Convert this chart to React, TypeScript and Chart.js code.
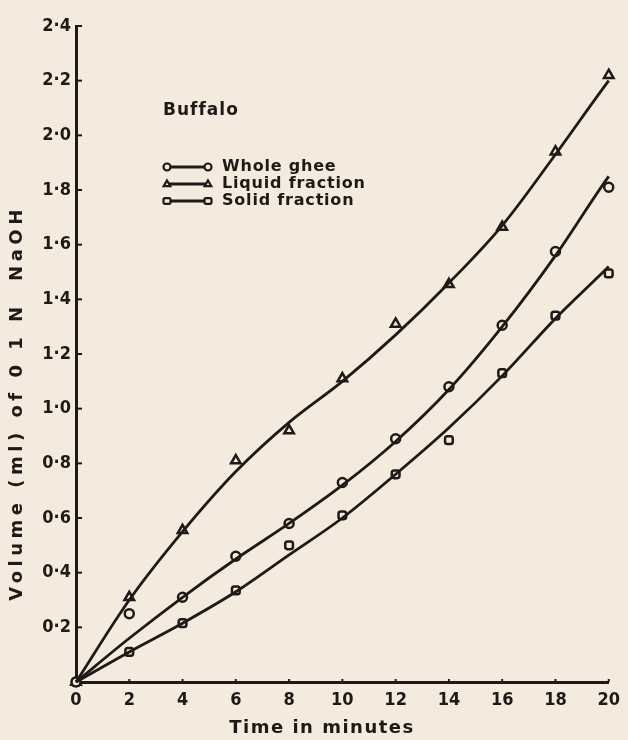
import React, { useEffect, useRef } from "react";
import { Chart, registerables } from "chart.js";

Chart.register(...registerables);

// ---- data ----
const obsTimes = [0, 2, 4, 6, 8, 10, 12, 14, 16, 18, 20];
const wholeGheeObs = [0, 0.25, 0.31, 0.46, 0.58, 0.73, 0.89, 1.08, 1.305, 1.575, 1.81];
const liquidObs = [0, 0.31, 0.555, 0.81, 0.92, 1.11, 1.31, 1.455, 1.665, 1.94, 2.22];
const solidObs = [0, 0.11, 0.215, 0.335, 0.5, 0.61, 0.76, 0.885, 1.13, 1.34, 1.495];

const curveTimes = [0, 2, 4, 6, 8, 10, 12, 14, 16, 18, 20, 20.4];
const wholeGheeCurve = [0, 0.16, 0.31, 0.45, 0.58, 0.72, 0.88, 1.07, 1.3, 1.56, 1.85, 1.9];
const liquidCurve = [0, 0.3, 0.55, 0.77, 0.95, 1.1, 1.27, 1.46, 1.67, 1.93, 2.2, 2.25];
const solidCurve = [0, 0.11, 0.215, 0.33, 0.465, 0.6, 0.76, 0.93, 1.12, 1.33, 1.52, 1.56];

const xTicks = [0, 2, 4, 6, 8, 10, 12, 14, 16, 18, 20];
const yTicks = [0.2, 0.4, 0.6, 0.8, 1.0, 1.2, 1.4, 1.6, 1.8, 2.0, 2.2, 2.4];
const yTickLabels = ["0·2", "0·4", "0·6", "0·8", "1·0", "1·2", "1·4", "1·6", "1·8", "2·0", "2·2", "2·4"];

const seriesNames = ["Whole ghee", "Liquid fraction", "Solid fraction"];
const seriesStyles = ["circle", "triangle", "rectRounded"];
const groupLabel = "Buffalo";
const xTitle = "Time in minutes";
const yTitle = "Volume (ml) of 0 1 N  NaOH";

const INK = "#1d1a17";
const PAPER = "#f4ebde";
const FONT = "'DejaVu Sans', sans-serif";
const TICK_FONT = "'DejaVu Sans Condensed', 'DejaVu Sans', sans-serif";

function toPts(xs: number[], ys: number[]) {
  return xs.map((x, i) => ({ x, y: ys[i] }));
}

function drawMarker(ctx: CanvasRenderingContext2D, style: string, x: number, y: number, r: number) {
  ctx.beginPath();
  if (style === "circle") {
    ctx.arc(x, y, r, 0, Math.PI * 2);
  } else if (style === "triangle") {
    ctx.moveTo(x, y - r);
    ctx.lineTo(x + r * 0.95, y + r * 0.6);
    ctx.lineTo(x - r * 0.95, y + r * 0.6);
    ctx.closePath();
  } else {
    ctx.roundRect(x - r, y - r * 0.8, 2 * r, 1.6 * r, 1.5);
  }
  ctx.fillStyle = PAPER;
  ctx.fill();
  ctx.stroke();
}

const decorPlugin = {
  id: "decor",
  afterDraw(chart: any) {
    const ctx: CanvasRenderingContext2D = chart.ctx;
    const xs = chart.scales.x;
    const ys = chart.scales.y;
    const area = chart.chartArea;
    ctx.save();
    ctx.strokeStyle = INK;
    ctx.fillStyle = INK;
    // inside ticks
    ctx.lineWidth = 2;
    yTicks.forEach((v) => {
      const py = ys.getPixelForValue(v);
      ctx.beginPath();
      ctx.moveTo(area.left, py);
      ctx.lineTo(area.left + 6, py);
      ctx.stroke();
    });
    xTicks.forEach((v) => {
      if (v === 0) return;
      const px = xs.getPixelForValue(v);
      ctx.beginPath();
      ctx.moveTo(px, area.bottom);
      ctx.lineTo(px, area.bottom - 3);
      ctx.stroke();
    });

    // y title
    ctx.save();
    ctx.translate(17, 403);
    ctx.rotate(-Math.PI / 2);
    ctx.font = `bold 18px ${FONT}`;
    (ctx as any).letterSpacing = "4.5px";
    ctx.textAlign = "center";
    ctx.textBaseline = "middle";
    ctx.fillText(yTitle, 0, 0);
    ctx.restore();

    // x title
    ctx.save();
    ctx.font = `bold 18px ${FONT}`;
    (ctx as any).letterSpacing = "1.5px";
    ctx.textAlign = "center";
    ctx.textBaseline = "middle";
    ctx.fillText(xTitle, 322, 728);
    ctx.restore();

    // legend
    ctx.save();
    ctx.textBaseline = "middle";
    ctx.textAlign = "left";
    ctx.font = `bold 17px ${FONT}`;
    (ctx as any).letterSpacing = "1px";
    ctx.fillText(groupLabel, 163, 111);
    ctx.font = `bold 16px ${FONT}`;
    (ctx as any).letterSpacing = "0.8px";
    const rows = [167, 184, 201];
    seriesNames.forEach((name, i) => {
      const y = rows[i];
      ctx.lineWidth = 2.8;
      ctx.beginPath();
      ctx.moveTo(167, y);
      ctx.lineTo(208, y);
      ctx.stroke();
      ctx.lineWidth = 2.2;
      drawMarker(ctx, seriesStyles[i], 167, y, 3.5);
      drawMarker(ctx, seriesStyles[i], 208, y, 3.5);
      ctx.fillStyle = INK;
      ctx.fillText(name, 222, y);
    });
    ctx.restore();
    ctx.restore();
  },
};

export default function App() {
  const ref = useRef<HTMLCanvasElement>(null);
  useEffect(() => {
    document.body.style.margin = "0";
    document.body.style.background = PAPER;
    const curveDs = (data: number[]) => ({
      data: toPts(curveTimes, data),
      showLine: true,
      borderColor: INK,
      borderWidth: 2.8,
      pointRadius: 0,
      tension: 0.4,
      cubicInterpolationMode: "monotone" as const,
      clip: false as any,
    });
    const markDs = (data: number[], style: string, r: number) => ({
      data: toPts(obsTimes, data),
      showLine: false,
      pointStyle: style,
      pointRadius: r,
      pointBorderWidth: 2.5,
      pointBorderColor: INK,
      pointBackgroundColor: PAPER,
      clip: false as any,
    });
    const chart = new Chart(ref.current!, {
      type: "scatter",
      data: {
        datasets: [
          { label: seriesNames[0] + " curve", ...curveDs(wholeGheeCurve) },
          { label: seriesNames[1] + " curve", ...curveDs(liquidCurve) },
          { label: seriesNames[2] + " curve", ...curveDs(solidCurve) },
          { label: seriesNames[0], ...markDs(wholeGheeObs, "circle", 4.5) },
          { label: seriesNames[1], ...markDs(liquidObs, "triangle", 5.5) },
          { label: seriesNames[2], ...markDs(solidObs, "rectRounded", 4.5) },
        ] as any,
      },
      options: {
        animation: false,
        responsive: false,
        layout: { padding: { top: 26, right: 16, left: 0, bottom: 0 } },
        plugins: {
          legend: { display: false },
          tooltip: { enabled: false },
        },
        scales: {
          x: {
            type: "linear",
            min: 0,
            max: 20,
            afterFit: (s: any) => {
              s.height = 58;
            },
            afterBuildTicks: (s: any) => {
              s.ticks = xTicks.map((v) => ({ value: v }));
            },
            ticks: {
              color: INK,
              padding: 8,
              font: { family: TICK_FONT, size: 18, weight: "bold" },
              callback: (v: any) => String(v),
              maxRotation: 0,
            },
            grid: { display: false, drawTicks: false },
            border: { display: true, color: INK, width: 3 },
          },
          y: {
            type: "linear",
            min: 0,
            max: 2.4,
            afterFit: (s: any) => {
              s.width = 76;
            },
            afterBuildTicks: (s: any) => {
              s.ticks = yTicks.map((v) => ({ value: v }));
            },
            ticks: {
              color: INK,
              padding: 5,
              font: { family: TICK_FONT, size: 18, weight: "bold" },
              callback: (v: any) => {
                const i = yTicks.findIndex((t) => Math.abs(t - v) < 1e-6);
                return i >= 0 ? yTickLabels[i] : "";
              },
            },
            grid: { display: false, drawTicks: false },
            border: { display: true, color: INK, width: 3 },
          },
        },
      },
      plugins: [decorPlugin],
    });
    return () => chart.destroy();
  }, []);
  return (
    <div style={{ position: "absolute", left: 0, top: 0, width: 628, height: 740, background: PAPER }}>
      <canvas ref={ref} width={628} height={740} style={{ display: "block" }} />
    </div>
  );
}
